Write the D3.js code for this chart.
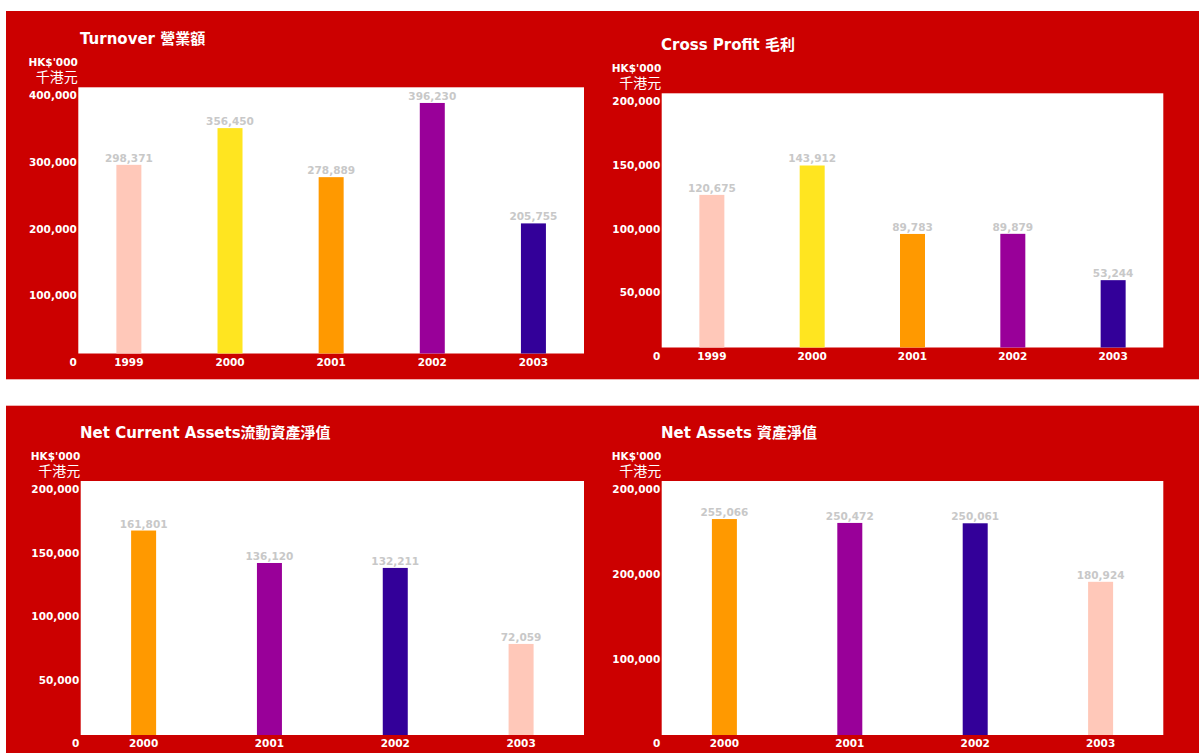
<!DOCTYPE html>
<html>
<head>
<meta charset="utf-8">
<script src="https://cdn.jsdelivr.net/npm/d3@7"></script>
<style>
	body { margin: 0; background: #fff; }
	svg { display: block; }
	text { font-family: "DejaVu Sans", "Noto Sans CJK TC", sans-serif; }
</style>
</head>
<body>
<svg id="chart"></svg>
<script>
// data
var years5 = ["1999", "2000", "2001", "2002", "2003"];
var years4 = ["2000", "2001", "2002", "2003"];

var turnover = [298371, 356450, 278889, 396230, 205755];
var grossProfit = [120675, 143912, 89783, 89879, 53244];
var netCurrentAssets = [161801, 136120, 132211, 72059];
var netAssets = [255066, 250472, 250061, 180924];

var ticksTurnover = [0, 100000, 200000, 300000, 400000];
var tickLabelsTurnover = ["0", "100,000", "200,000", "300,000", "400,000"];
var ticks200 = [0, 50000, 100000, 150000, 200000];
var tickLabels200 = ["0", "50,000", "100,000", "150,000", "200,000"];
var ticksNetAssets = [0, 100000, 200000, 300000];
var tickLabelsNetAssets = ["0", "100,000", "200,000", "200,000"];

var colors5 = ["#ffc8b9", "#ffe520", "#ff9900", "#990099", "#330099"];
var colors4 = ["#ff9900", "#990099", "#330099", "#ffc8b9"];

var unitTop = "HK$'000";
var unitBottom = "千港元";

(function() {

	var W = 1199, H = 753;
	var red = "#cc0000";

	var svg = d3.select("#chart")
		.attr("width", W)
		.attr("height", H);

	// red panels
	svg.append("rect").attr("x", 6).attr("y", 11).attr("width", W - 6).attr("height", 368.3).style("fill", red);
	svg.append("rect").attr("x", 6).attr("y", 405.7).attr("width", W - 6).attr("height", 360).style("fill", red);

	var charts = [
		{ title: "Turnover 營業額", cats: years5, values: turnover, colors: colors5, yMax: 421000,
			ticks: ticksTurnover, tickLabels: tickLabelsTurnover, box: [78.3, 87.3, 584, 353.5], titleX: 80 },
		{ title: "Cross Profit 毛利", cats: years5, values: grossProfit, colors: colors5, yMax: 201000,
			ticks: ticks200, tickLabels: tickLabels200, box: [661.7, 93.3, 1163.3, 347.5], titleX: 661 },
		{ title: "Net Current Assets流動資產淨值", cats: years4, values: netCurrentAssets, colors: colors4, yMax: 201000,
			ticks: ticks200, tickLabels: tickLabels200, box: [80.7, 481, 584, 735], titleX: 80 },
		{ title: "Net Assets 資產淨值", cats: years4, values: netAssets, colors: colors4, yMax: 300000,
			ticks: ticksNetAssets, tickLabels: tickLabelsNetAssets, box: [661.7, 481, 1163.3, 735], titleX: 661 }
	];

	charts.forEach(drawChart);

	function drawChart(c) {

		var left = c.box[0], top = c.box[1], right = c.box[2], bottom = c.box[3];
		var w = right - left, h = bottom - top;

		var g = svg.append("g")
			.attr("transform", "translate(" + left + "," + top + ")");

		var x = d3.scaleBand()
			.domain(c.cats)
			.range([0, w]);

		// bars
		var y = d3.scaleLinear()
			.domain([0, c.yMax])
			.range([h, 0]);

		// tick labels sit a little below their values
		var yLabel = d3.scaleLinear()
			.domain([0, c.ticks[c.ticks.length - 1]])
			.range([h + 8.5, 8.5]);

		g.append("rect")
			.attr("width", w)
			.attr("height", h)
			.style("fill", "#fff");

		var barW = 25;

		g.selectAll("rect.bar")
			.data(c.values)
			.enter().append("rect")
			.attr("class", "bar")
			.attr("x", function(d, i) { return x(c.cats[i]) + x.bandwidth() / 2 - barW / 2; })
			.attr("y", function(d) { return y(d); })
			.attr("width", barW)
			.attr("height", function(d) { return h - y(d); })
			.style("fill", function(d, i) { return c.colors[i]; });

		g.selectAll("text.value")
			.data(c.values)
			.enter().append("text")
			.attr("class", "value")
			.attr("x", function(d, i) { return x(c.cats[i]) + x.bandwidth() / 2; })
			.attr("y", function(d) { return y(d) - 3; })
			.style("text-anchor", "middle")
			.style("font-size", "10.5px")
			.style("font-weight", "bold")
			.style("fill", "#c8c8c8")
			.text(function(d) { return d3.format(",")(d); });

		// y tick labels
		g.selectAll("text.tick")
			.data(c.ticks)
			.enter().append("text")
			.attr("class", "tick")
			.attr("x", -1.5)
			.attr("y", function(d) { return yLabel(d); })
			.attr("dy", "0.35em")
			.style("text-anchor", "end")
			.style("font-size", "10.5px")
			.style("font-weight", "bold")
			.style("fill", "#fff")
			.text(function(d, i) { return c.tickLabels[i]; });

		// year labels
		g.selectAll("text.year")
			.data(c.cats)
			.enter().append("text")
			.attr("class", "year")
			.attr("x", function(d) { return x(d) + x.bandwidth() / 2; })
			.attr("y", h + 8.5)
			.attr("dy", "0.35em")
			.style("text-anchor", "middle")
			.style("font-size", "10.5px")
			.style("font-weight", "bold")
			.style("fill", "#fff")
			.text(function(d) { return d; });

		// units
		g.append("text")
			.attr("x", -0.5)
			.attr("y", -25)
			.attr("dy", "0.35em")
			.style("text-anchor", "end")
			.style("font-size", "10.5px")
			.style("font-weight", "bold")
			.style("fill", "#fff")
			.text(unitTop);

		g.append("text")
			.attr("x", -0.5)
			.attr("y", -10.5)
			.attr("dy", "0.38em")
			.style("text-anchor", "end")
			.style("font-size", "14px")
			.style("fill", "#fff")
			.text(unitBottom);

		// title
		g.append("text")
			.attr("x", c.titleX - left)
			.attr("y", -48.3)
			.attr("dy", "0.35em")
			.style("font-size", "15px")
			.style("font-weight", "bold")
			.style("fill", "#fff")
			.text(c.title);
	}

})();
</script>
</body>
</html>
